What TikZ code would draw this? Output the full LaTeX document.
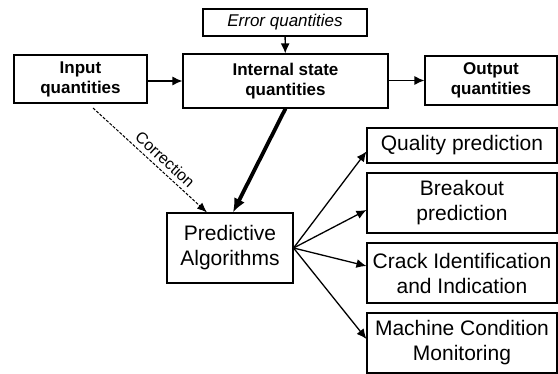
\documentclass[tikz,border=0pt]{standalone}
\usepackage{fontspec}
\setmainfont{Liberation Sans}
\usetikzlibrary{arrows.meta}
\tikzset{
  box/.style={draw,line width=1.1pt,align=center,inner sep=0pt,font=\fontsize{21}{25}\selectfont},
  qbox/.style={box,font=\fontsize{17}{20}\selectfont\bfseries},
  taskbox/.style={box,minimum width=190pt},
  flow/.style={line width=1.3pt,-{Latex[length=10pt,width=9pt]}},
}
\begin{document}
\begin{tikzpicture}[x=1pt,y=-1pt]
\useasboundingbox (0,0) rectangle (558,374);
\node[qbox,minimum width=133pt,minimum height=48pt] (input) at (80.5,79) {Input\\quantities};
\node[box,minimum width=164pt,minimum height=27pt,font=\fontsize{17}{20}\selectfont\itshape] (error) at (285,22.5) {Error quantities};
\node[qbox,minimum width=205pt,minimum height=54pt] (state) at (285.5,81) {Internal state\\quantities};
\node[qbox,minimum width=132pt,minimum height=49pt] (output) at (491,80.5) {Output\\quantities};
\node[box,minimum width=126pt,minimum height=70pt] (pred) at (230,248) {Predictive\\Algorithms};
\node[taskbox,minimum height=35pt] (quality) at (462,145.5) {Quality prediction};
\node[taskbox,minimum height=60pt] (breakout) at (462,203) {Breakout\\prediction};
\node[taskbox,minimum height=60pt] (crack) at (462,273) {Crack Identification\\and Indication};
\node[taskbox,minimum height=60pt] (machine) at (462,343) {Machine Condition\\Monitoring};
\coordinate (corr) at (93,108);

\draw[flow] (error) -- (state);
\draw[flow] ([yshift=-2pt]input.east) -- ([yshift=-2pt]input.east -| state.west);
\draw[flow] (state.east |- output.west) -- (output.west);
\draw[line width=3.8pt,-{Latex[length=14pt,width=12pt]}] (state.south) -- ([xshift=3pt]pred.north);
\draw[line width=1pt,dash pattern=on 3pt off 1.5pt,-{Latex[length=10pt,width=8pt]}] (corr)
  -- node[sloped,above=1pt,pos=0.57,font=\fontsize{16}{20}\selectfont] {Correction} ([xshift=-23pt]pred.north);
\draw[flow] (pred.east) -- ([yshift=-6pt]quality.west);
\draw[flow] (pred.east) -- ([yshift=-7pt]breakout.west);
\draw[flow] (pred.east) -- ([yshift=7pt]crack.west);
\draw[flow] (pred.east) -- ([yshift=4pt]machine.west);
\end{tikzpicture}
\end{document}
